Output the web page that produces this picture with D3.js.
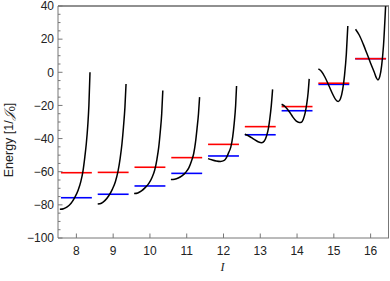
<!DOCTYPE html>
<html>
<head>
<meta charset="utf-8">
<script src="https://cdn.jsdelivr.net/npm/d3@7"></script>
<style>
  body { margin: 0; background: #fff; }
  text { font-family: "Liberation Sans", Arial, sans-serif; }
</style>
</head>
<body>
<script>
var width = 390, height = 281;
var margin = { left: 58, top: 6, right: 1, bottom: 43 };

// spin values on the x axis
var spins = [8, 9, 10, 11, 12, 13, 14, 15, 16];
var xTicks = [8, 9, 10, 11, 12, 13, 14, 15, 16];
var yTicks = [-100, -80, -60, -40, -20, 0, 20, 40];

// energy levels (red, blue) per spin
var redLevels  = [-60.6, -60.4, -57.3, -51.5, -43.5, -32.8, -20.7, -6.6, 8.2];
var blueLevels = [-75.7, -73.6, -68.6, -61.0, -50.5, -37.7, -23.2, -7.3, 8.2];

// potential curves, [offset from spin, energy]
var pot8  = [[-0.45,-82.7],[-0.35,-82.3],[-0.25,-81.2],[-0.15,-79.2],[-0.05,-75.8],[0.05,-71],[0.12,-66],[0.18,-59.5],[0.23,-51],[0.27,-43],[0.31,-32],[0.34,-20],[0.37,0]];
var pot9  = [[-0.42,-79.5],[-0.32,-79],[-0.22,-77.3],[-0.12,-74.5],[-0.02,-70.5],[0.06,-66],[0.13,-60],[0.19,-52],[0.24,-43],[0.28,-33],[0.32,-21],[0.35,-7.1]];
var pot10 = [[-0.43,-73.2],[-0.33,-72.8],[-0.23,-71.6],[-0.13,-69.6],[-0.03,-67],[0.06,-63.3],[0.13,-59],[0.19,-52.5],[0.24,-45],[0.28,-36],[0.32,-25],[0.35,-11]];
var pot11 = [[-0.43,-64.7],[-0.33,-64.5],[-0.23,-63.8],[-0.13,-62.5],[-0.03,-60.5],[0.06,-57.5],[0.13,-53.5],[0.19,-49],[0.24,-42],[0.28,-34],[0.32,-25],[0.35,-15]];
var pot12 = [[-0.42,-52.1],[-0.32,-52.8],[-0.2,-53.5],[-0.08,-53.8],[0.02,-53.2],[0.08,-51.5],[0.14,-48.5],[0.2,-45],[0.25,-39],[0.29,-31],[0.33,-20],[0.355,-8.3]];
var pot13 = [[-0.42,-37.4],[-0.3,-38.6],[-0.18,-40.3],[-0.06,-41.9],[0.04,-42.5],[0.11,-41.5],[0.17,-38.5],[0.22,-34],[0.26,-28],[0.3,-20],[0.335,-10.3]];
var pot14 = [[-0.42,-19.3],[-0.32,-20.8],[-0.22,-23.5],[-0.12,-26.8],[-0.02,-29.5],[0.06,-30.3],[0.12,-30.1],[0.17,-28.3],[0.22,-24.5],[0.26,-19.5],[0.3,-12.5],[0.33,-4]];
var pot15 = [[-0.42,2],[-0.34,0.6],[-0.24,-3],[-0.14,-7.8],[-0.04,-12.8],[0.05,-16.5],[0.12,-17.7],[0.18,-16],[0.24,-10.5],[0.29,-2],[0.34,11],[0.38,27.9]];
var pot16 = [[-0.41,26],[-0.31,22.5],[-0.2,17],[-0.1,11.3],[0,5.5],[0.1,0],[0.16,-3.5],[0.2,-4.6],[0.25,-2.5],[0.3,4],[0.35,16],[0.41,41]];
var potentials = [pot8, pot9, pot10, pot11, pot12, pot13, pot14, pot15, pot16];

var levelHalfWidth = 0.42;

var svg = d3.select("body").append("svg").attr("width", width).attr("height", height);

var x = d3.scaleLinear().domain([7.5, 16.5]).range([margin.left, width - margin.right]);
var y = d3.scaleLinear().domain([-100, 40]).range([height - margin.bottom, margin.top]);

svg.append("clipPath").attr("id", "plotClip").append("rect")
    .attr("x", margin.left).attr("y", margin.top)
    .attr("width", width - margin.right - margin.left)
    .attr("height", height - margin.bottom - margin.top);

var plot = svg.append("g").attr("clip-path", "url(#plotClip)");

// level lines: blue first, red on top
spins.forEach(function(s, i) {
    plot.append("line")
        .attr("x1", x(s - levelHalfWidth)).attr("x2", x(s + levelHalfWidth))
        .attr("y1", y(blueLevels[i])).attr("y2", y(blueLevels[i]))
        .style("stroke", "#0000ff").style("stroke-width", 1.6);
});
spins.forEach(function(s, i) {
    plot.append("line")
        .attr("x1", x(s - levelHalfWidth)).attr("x2", x(s + levelHalfWidth))
        .attr("y1", y(redLevels[i])).attr("y2", y(redLevels[i]))
        .style("stroke", "#ff0000").style("stroke-width", 1.6);
});

// potential curves
potentials.forEach(function(pts, i) {
    var s = spins[i];
    var line = d3.line()
        .x(function(d) { return x(s + d[0]); })
        .y(function(d) { return y(d[1]); })
        .curve(d3.curveMonotoneX);
    plot.append("path").attr("d", line(pts))
        .style("fill", "none").style("stroke", "#000").style("stroke-width", 1.5);
});

// frame
var frameColor = "#777";
var x0 = margin.left, x1 = width - margin.right, y0 = margin.top, y1 = height - margin.bottom;
svg.append("line").attr("x1", x0).attr("x2", x1).attr("y1", y0).attr("y2", y0).style("stroke", "#222").style("stroke-width", 1.2);
svg.append("line").attr("x1", x1 - 0.5).attr("x2", x1 - 0.5).attr("y1", y0).attr("y2", y1).style("stroke", frameColor);
svg.append("line").attr("x1", x0).attr("x2", x1).attr("y1", y1).attr("y2", y1).style("stroke", frameColor);
svg.append("line").attr("x1", x0).attr("x2", x0).attr("y1", y0).attr("y2", y1).style("stroke", frameColor);

// y ticks
var minorY = d3.range(-100, 41, 5).filter(function(v) { return v % 20 !== 0; });
minorY.forEach(function(v) {
    svg.append("line").attr("x1", x0).attr("x2", x0 + 2.5).attr("y1", y(v)).attr("y2", y(v))
        .style("stroke", frameColor);
});
yTicks.forEach(function(v) {
    svg.append("line").attr("x1", x0).attr("x2", x0 + 4.5).attr("y1", y(v)).attr("y2", y(v))
        .style("stroke", frameColor);
    svg.append("text").attr("x", x0 - 4).attr("y", y(v)).attr("dy", "0.36em")
        .attr("text-anchor", "end").attr("font-size", "12px").style("fill", "#222")
        .text(v < 0 ? "\u2212" + Math.abs(v) : v);
});

// x ticks
xTicks.forEach(function(v) {
    svg.append("line").attr("x1", x(v)).attr("x2", x(v)).attr("y1", y1).attr("y2", y1 - 4.5)
        .style("stroke", frameColor);
    svg.append("text").attr("x", x(v)).attr("y", 255)
        .attr("text-anchor", "middle").attr("font-size", "12px").style("fill", "#222")
        .text(v);
});

// axis labels
svg.append("text").attr("x", 222.5).attr("y", 271)
    .attr("text-anchor", "middle").attr("font-size", "12px")
    .style("font-family", "'Liberation Serif', serif").style("font-style", "italic").style("fill", "#222")
    .text("I");

var yl = svg.append("text").attr("transform", "translate(13,140) rotate(-90)")
    .attr("text-anchor", "middle").attr("font-size", "12.5px").style("fill", "#222");
yl.append("tspan").text("Energy [1/");
yl.append("tspan").style("font-family", "'DejaVu Serif', serif").style("font-style", "italic").text("\uD835\uDCA5");
yl.append("tspan").attr("font-size", "9px").attr("dy", "2").text("0");
yl.append("tspan").attr("dy", "-2").text("]");
</script>
</body>
</html>
